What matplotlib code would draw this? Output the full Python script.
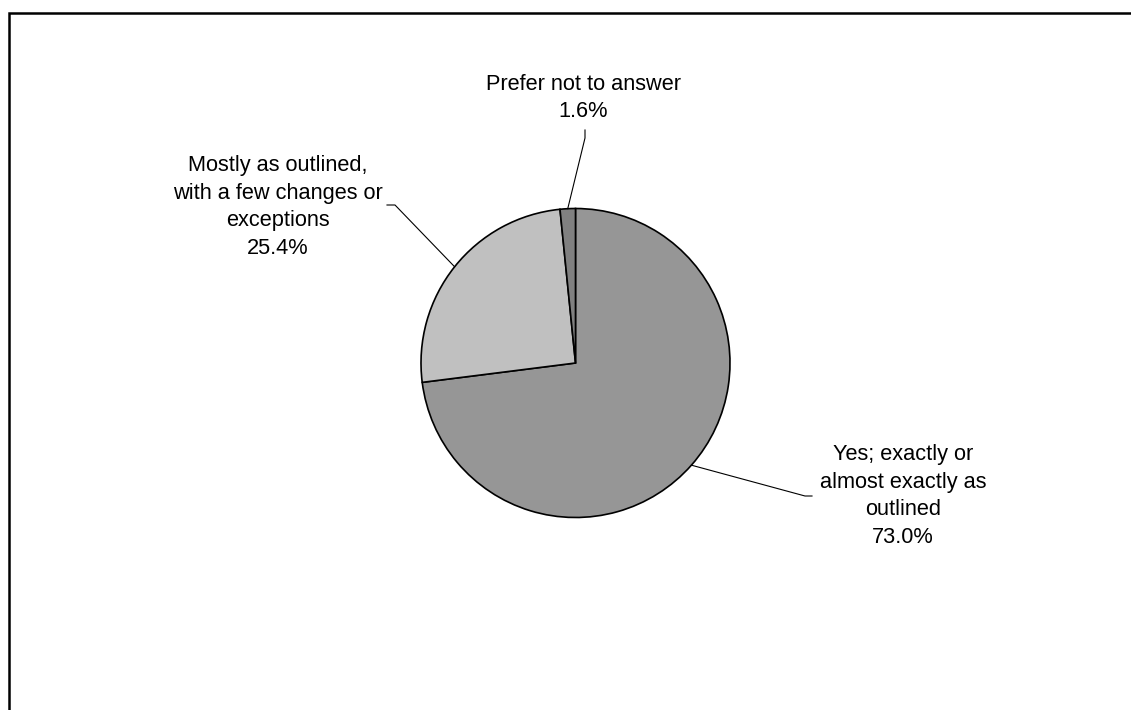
import numpy as np
import matplotlib
matplotlib.use("Agg")
import matplotlib.pyplot as plt
from matplotlib.patches import Rectangle

# Data
labels = ["Yes; exactly or\nalmost exactly as\noutlined",
          "Mostly as outlined,\nwith a few changes or\nexceptions",
          "Prefer not to answer"]
values = [73.0, 25.4, 1.6]
colors = ["#969696", "#C0C0C0", "#808080"]

# label text centre (px, from top-left) and leader elbow points
label_pos = [(903, 496), (278, 207), (583, 98)]
elbows = [[(805, 496), (812, 496)],
          [(395, 205), (387, 205)],
          [(585, 138), (585, 130)]]

W, H = 1131, 710
plt.rcParams["font.family"] = ["Liberation Sans", "DejaVu Sans"]

fig = plt.figure(figsize=(W / 100, H / 100), dpi=100)
ax = fig.add_axes([0, 0, 1, 1])

# chart frame (cropped on right and bottom)
ax.add_patch(Rectangle((8.5, -20), W + 20, H - 12.5 + 20, fill=False,
                       edgecolor="black", linewidth=1.8))

cx, cy, r = 575.5, H - 363, 154.5
wedges, _ = ax.pie(values, colors=colors, startangle=90, counterclock=False,
                   center=(cx, cy), radius=r, frame=True,
                   wedgeprops=dict(edgecolor="black", linewidth=1.2))
ax.set_xlim(0, W)
ax.set_ylim(0, H)
ax.set_aspect("equal")
ax.axis("off")

for w, lab, v, pos, elb in zip(wedges, labels, values, label_pos, elbows):
    mid = np.deg2rad((w.theta1 + w.theta2) / 2)
    x0, y0 = cx + r * np.cos(mid), cy + r * np.sin(mid)
    xs = [x0] + [p[0] for p in elb]
    ys = [y0] + [H - p[1] for p in elb]
    ax.plot(xs, ys, color="black", linewidth=0.8)
    ax.text(pos[0], H - pos[1], f"{lab}\n{v:.1f}%", ha="center", va="center",
            fontsize=15.7, linespacing=1.43, color="black")

fig.savefig("out.png", dpi=100)
